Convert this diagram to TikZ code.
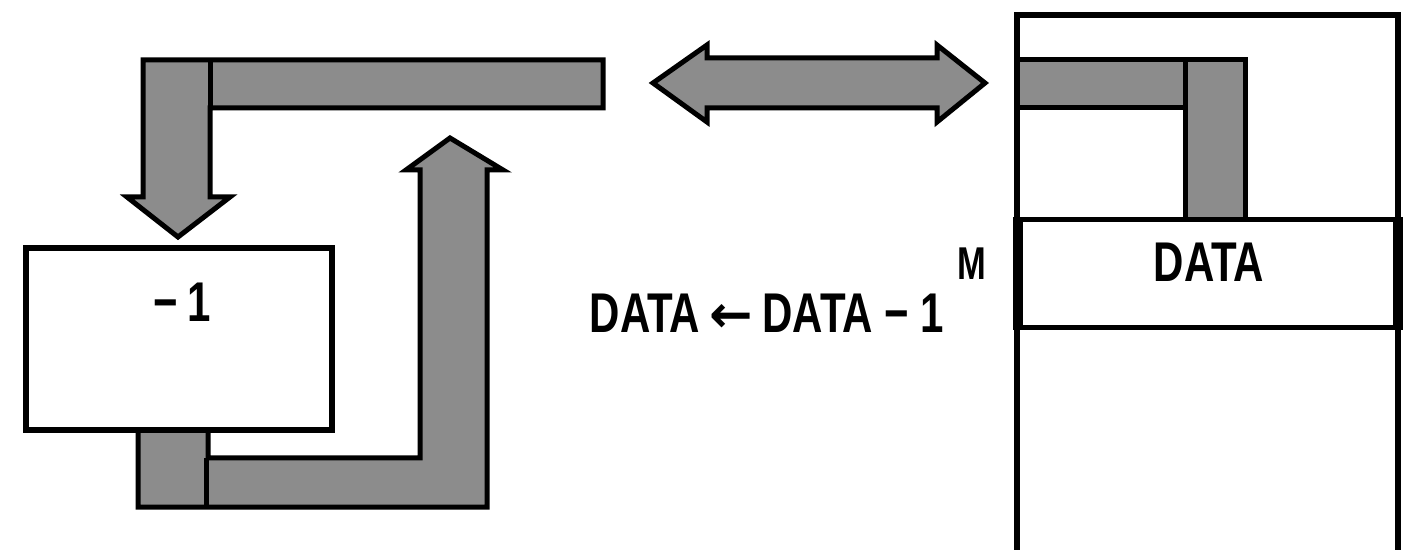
\documentclass[tikz,border=0pt]{standalone}
\usepackage{fontspec}
\newfontfamily\diafont{Liberation Sans}[FakeStretch=0.75]
\newfontfamily\arrowfont{DejaVu Sans}
\tikzset{
  fatarrow/.style={fill=black!45, draw=black, line width=2.5pt, line join=miter},
  divider/.style={draw=black, line width=2.5pt},
  opbox/.style={draw=black, line width=3pt, fill=white, inner sep=0pt},
  memline/.style={draw=black, line width=3pt},
  lbl/.style={font=\diafont\bfseries\fontsize{28}{30}\selectfont, inner sep=0pt},
  smalllbl/.style={font=\diafont\bfseries\fontsize{23}{24}\selectfont, inner sep=0pt}
}
\begin{document}
\begin{tikzpicture}[x=0.5pt,y=-0.5pt]
\useasboundingbox (0,0) rectangle (1408,550);
% top-left L arrow pointing down
\draw[fatarrow] (603,60) -- (143,60) -- (143,197) -- (127,197) -- (178,237) -- (230,197) -- (210,197) -- (210,108) -- (603,108) -- cycle;
\draw[divider] (210,60) -- (210,108);
% bottom L arrow pointing up
\draw[fatarrow] (138,420) -- (138,507) -- (487,507) -- (487,170) -- (503,170) -- (450,138) -- (406,170) -- (420,170) -- (420,458) -- (208,458) -- (208,420) -- cycle;
\draw[divider] (206,458) -- (206,507);
% decrement box
\node[opbox, minimum width=153pt, minimum height=91pt] (dec) at (179,339) {};
\node[lbl] (declbl) at (182,302) {\char"2212\,1};
% double arrow
\draw[fatarrow] (653,83) -- (707,45) -- (707,58) -- (937,58) -- (937,45) -- (985,83) -- (937,122) -- (937,108) -- (707,108) -- (707,122) -- cycle;
% memory
\coordinate (memTL) at (1017,15);
\coordinate (memTR) at (1398,15);
\coordinate (memBL) at (1017,552);
\coordinate (memBR) at (1398,552);
\draw[fatarrow] (1017,60) -- (1245,60) -- (1245,222) -- (1185,222) -- (1185,108) -- (1017,108);
\draw[divider] (1185,60) -- (1185,108);
\node[opbox, minimum width=190.5pt, minimum height=54pt, line width=2.5pt] (data) at (1207.5,274) {};
\draw[line width=5pt] ([xshift=1.5pt]data.north west) -- ([xshift=1.5pt]data.south west);
\draw[line width=5pt] ([xshift=-1.5pt]data.north east) -- ([xshift=-1.5pt]data.south east);
\node[lbl] (datalbl) at (1209,262) {DATA};
\draw[memline] (memBL) -- (memTL) -- (memTR) -- (memBR);
% labels
\node[smalllbl] (mlbl) at (972,264) {M};
\node[lbl] (eq) at (767,313) {DATA\,{\arrowfont\bfseries\fontsize{26}{28}\selectfont\char"2190}\,DATA \char"2212\ 1};
\end{tikzpicture}
\end{document}
